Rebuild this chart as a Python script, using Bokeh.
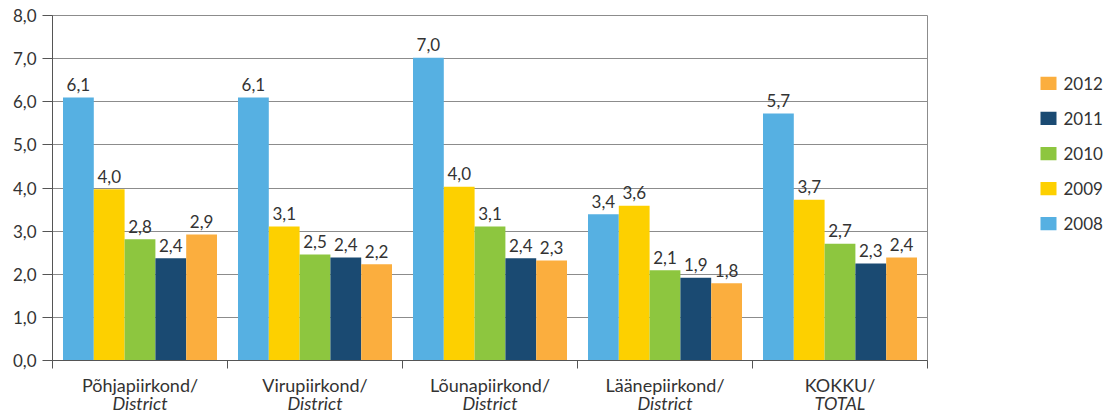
from bokeh.plotting import figure
from bokeh.layouts import row
from bokeh.models import FixedTicker, ColumnDataSource, Range1d, LinearAxis
from bokeh.core.properties import value
from bokeh.embed import file_html
from bokeh.resources import INLINE

categories = ["Põhjapiirkond/", "Virupiirkond/", "Lõunapiirkond/", "Läänepiirkond/", "KOKKU/"]
subtitles = ["District", "District", "District", "District", "TOTAL"]
years = ["2008", "2009", "2010", "2011", "2012"]
v2008 = [6.10, 6.10, 7.02, 3.39, 5.73]
v2009 = [3.97, 3.11, 4.03, 3.59, 3.73]
v2010 = [2.81, 2.46, 3.11, 2.09, 2.71]
v2011 = [2.37, 2.39, 2.37, 1.92, 2.25]
v2012 = [2.92, 2.23, 2.32, 1.79, 2.39]
labels2008 = ["6,1", "6,1", "7,0", "3,4", "5,7"]
labels2009 = ["4,0", "3,1", "4,0", "3,6", "3,7"]
labels2010 = ["2,8", "2,5", "3,1", "2,1", "2,7"]
labels2011 = ["2,4", "2,4", "2,4", "1,9", "2,3"]
labels2012 = ["2,9", "2,2", "2,3", "1,8", "2,4"]
colors = ["#56B0E2", "#FDD000", "#8DC63F", "#1A4A72", "#FBAE3E"]
y_ticks = [0, 1, 2, 3, 4, 5, 6, 7, 8]
y_tick_labels = ["0,0", "1,0", "2,0", "3,0", "4,0", "5,0", "6,0", "7,0", "8,0"]

series = [v2008, v2009, v2010, v2011, v2012]
series_labels = [labels2008, labels2009, labels2010, labels2011, labels2012]

FONT = "Lato"
FS = "17px"
FS_CAT = "18px"
TXT = "#333333"
AX = "#555555"

p = figure(frame_width=875, frame_height=345, output_backend="svg", toolbar_location=None,
           x_range=Range1d(0, 5), y_range=Range1d(0, 8),
           min_border_left=52, min_border_top=15, min_border_bottom=54, min_border_right=8)
p.outline_line_color = "#8c8c8c"

bw = 0.176
offsets = [-2 * bw, -bw, 0, bw, 2 * bw]
for i, (vals, labs) in enumerate(zip(series, series_labels)):
    xs = [k + 0.5 + offsets[i] for k in range(len(categories))]
    src = ColumnDataSource(dict(x=xs, top=vals, lab=labs))
    p.vbar(x="x", top="top", width=bw, source=src, fill_color=colors[i], line_color=None)
    p.text(x="x", y="top", text="lab", source=src, text_align="center", text_baseline="alphabetic",
           y_offset=-13, text_font=value(FONT), text_font_size=FS, text_color=TXT)

centers = [k + 0.5 for k in range(len(categories))]
bounds = list(range(len(categories) + 1))

# first x axis: boundary ticks (as minor ticks) + first label line
xa = p.xaxis[0]
xa.ticker = FixedTicker(ticks=centers, minor_ticks=bounds)
xa.major_label_overrides = {c: t for c, t in zip(centers, categories)}
xa.major_tick_line_color = None
xa.major_tick_out = 0
xa.major_tick_in = 0
xa.minor_tick_out = 8
xa.minor_tick_in = 0
xa.minor_tick_line_color = AX
xa.axis_line_color = AX
xa.major_label_standoff = 5
xa.major_label_text_font = FONT
xa.major_label_text_font_size = FS_CAT
xa.major_label_text_color = TXT

# second x axis: italic second line
xa2 = LinearAxis(ticker=FixedTicker(ticks=centers),
                 major_label_overrides={c: t for c, t in zip(centers, subtitles)},
                 axis_line_color=None, major_tick_line_color=None, minor_tick_line_color=None,
                 major_tick_out=0, major_tick_in=0, major_label_standoff=-7,
                 major_label_text_font=FONT, major_label_text_font_size=FS_CAT,
                 major_label_text_font_style="italic", major_label_text_color=TXT)
p.add_layout(xa2, "below")

ya = p.yaxis[0]
ya.ticker = FixedTicker(ticks=y_ticks)
ya.major_label_overrides = {t: l for t, l in zip(y_ticks, y_tick_labels)}
ya.major_tick_out = 10
ya.major_tick_in = 0
ya.minor_tick_line_color = None
ya.axis_line_color = AX
ya.major_tick_line_color = AX
ya.major_label_text_font = FONT
ya.major_label_text_font_size = FS
ya.major_label_text_color = TXT
ya.major_label_standoff = 6

p.xgrid.grid_line_color = None
p.ygrid.ticker = FixedTicker(ticks=y_ticks)
p.ygrid.grid_line_color = "#8c8c8c"
p.ygrid.grid_line_width = 1.2

# legend panel as its own figure
LW = 168
lg = figure(width=LW, height=414, output_backend="svg", toolbar_location=None,
            x_range=Range1d(0, LW), y_range=Range1d(414, 0),
            x_axis_type=None, y_axis_type=None, min_border=0)
lg.outline_line_color = None
lg.xgrid.grid_line_color = None
lg.ygrid.grid_line_color = None
order = list(reversed(range(len(years))))
ly = [82 + 42.3 * j for j in range(len(order))]
lsrc = ColumnDataSource(dict(y=ly, c=[colors[i] for i in order], t=[years[i] for i in order],
                             xs=[113] * len(order), xt=[128] * len(order)))
lg.rect(x="xs", y="y", width=16, height=16, source=lsrc, fill_color="c", line_color=None)
lg.text(x="xt", y="y", text="t", source=lsrc, text_baseline="middle", text_align="left",
        text_font=value(FONT), text_font_size=FS, text_color=TXT)

layout = row(p, lg, spacing=0)
open("out.html", "w").write(file_html(layout, INLINE))
